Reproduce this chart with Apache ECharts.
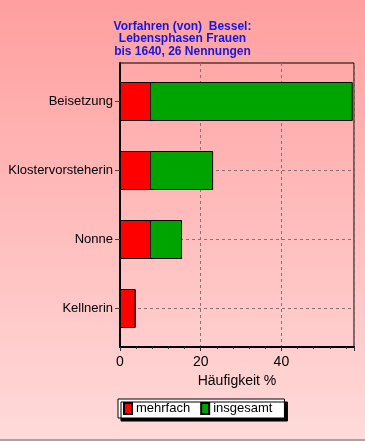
<!DOCTYPE html>
<html><head><meta charset="utf-8">
<script src="https://cdn.jsdelivr.net/npm/echarts@6/dist/echarts.min.js"></script>
<style>html,body{margin:0;padding:0;} #c{width:365px;height:441px;background:linear-gradient(to bottom,#ff9f9f 0%,#ffdada 100%);}</style>
</head><body><div id="c"></div>
<script>
const titleLines = ['Vorfahren (von)  Bessel:', 'Lebensphasen Frauen', 'bis 1640, 26 Nennungen'];
const categories = ['Beisetzung', 'Klostervorsteherin', 'Nonne', 'Kellnerin'];
const seriesNames = ['mehrfach', 'insgesamt'];
const mehrfach = [7.69, 7.69, 7.69, 3.85];
const insgesamt = [57.69, 23.08, 15.38, 3.85];
const xMax = 58;
const xInterval = 20;
const xName = 'Häufigkeit %';

const font = 'Arial, "Liberation Sans", sans-serif';
const chart = echarts.init(document.getElementById('c'), null, {renderer: 'canvas'});
chart.setOption({
  backgroundColor: 'transparent',
  animation: false,
  title: {
    text: titleLines.join('\n'),
    left: 'center', top: 20, padding: 0,
    textStyle: {color: '#1818d8', fontSize: 12, fontWeight: 'bold', fontFamily: font, lineHeight: 12.5}
  },
  legend: {
    data: seriesNames,
    left: 118, top: 399,
    orient: 'horizontal',
    icon: 'rect', itemWidth: 8, itemHeight: 11, itemGap: 10,
    padding: [3, 12, 3, 5],
    backgroundColor: '#ffffff', borderColor: '#000', borderWidth: 1,
    shadowColor: '#000', shadowOffsetX: 3, shadowOffsetY: 3, shadowBlur: 0,
    textStyle: {color: '#000', fontSize: 13, fontFamily: font, padding: [0,0,0,-1]}
  },
  grid: [
    {left: 120, right: 11, top: 63, bottom: 94, show: true, borderColor: '#000', borderWidth: 1, backgroundColor: 'transparent'},
    {left: 120, right: 11, top: 67, bottom: 98}
  ],
  xAxis: [
    {
      gridIndex: 0, type: 'value', min: 0, max: xMax, interval: xInterval,
      name: xName, nameLocation: 'middle', nameGap: 25,
      nameTextStyle: {color: '#000', fontSize: 14, fontFamily: font},
      axisLine: {show: true, lineStyle: {color: '#000', width: 2}},
      axisTick: {show: true, length: 4, lineStyle: {color: '#333'}},
      minorTick: {show: true, splitNumber: 5, length: 2, lineStyle: {color: '#333'}},
      axisLabel: {color: '#000', fontSize: 14, fontFamily: font, margin: 8, showMaxLabel: false},
      splitLine: {show: true, lineStyle: {color: '#8a7070', type: [3, 3], width: 1}}
    },
    {gridIndex: 1, type: 'value', min: 0, max: xMax, show: false, splitLine: {show: false}}
  ],
  yAxis: [
    {gridIndex: 0, type: 'value', min: 0, max: 1, axisLine: {show: true, lineStyle: {color: '#000', width: 2}},
     axisTick: {show: false}, axisLabel: {show: false}, splitLine: {show: false}},
    {
      gridIndex: 1, type: 'category', data: categories, inverse: true,
      axisLine: {show: false},
      axisTick: {show: true, alignWithLabel: true, length: 5, inside: false, lineStyle: {color: '#444'}},
      axisLabel: {color: '#000', fontSize: 13, fontFamily: font, margin: 7},
      splitLine: {show: true, alignWithLabel: true, lineStyle: {color: '#8a7070', type: [3, 3], width: 1}}
    }
  ],
  series: [
    {
      name: seriesNames[1], type: 'bar', xAxisIndex: 1, yAxisIndex: 1,
      data: insgesamt, barWidth: 39, barGap: '-100%',
      itemStyle: {color: '#00a400', borderColor: '#000', borderWidth: 1}
    },
    {
      name: seriesNames[0], type: 'bar', xAxisIndex: 1, yAxisIndex: 1,
      data: mehrfach, barWidth: 39, barGap: '-100%',
      itemStyle: {color: '#ff0000', borderColor: '#000', borderWidth: 1}
    }
  ],
  graphic: [
    {type: 'rect', left: 0, top: 439, shape: {width: 365, height: 2}, style: {fill: '#b0a0a0'}, silent: true}
  ]
});
</script></body></html>
